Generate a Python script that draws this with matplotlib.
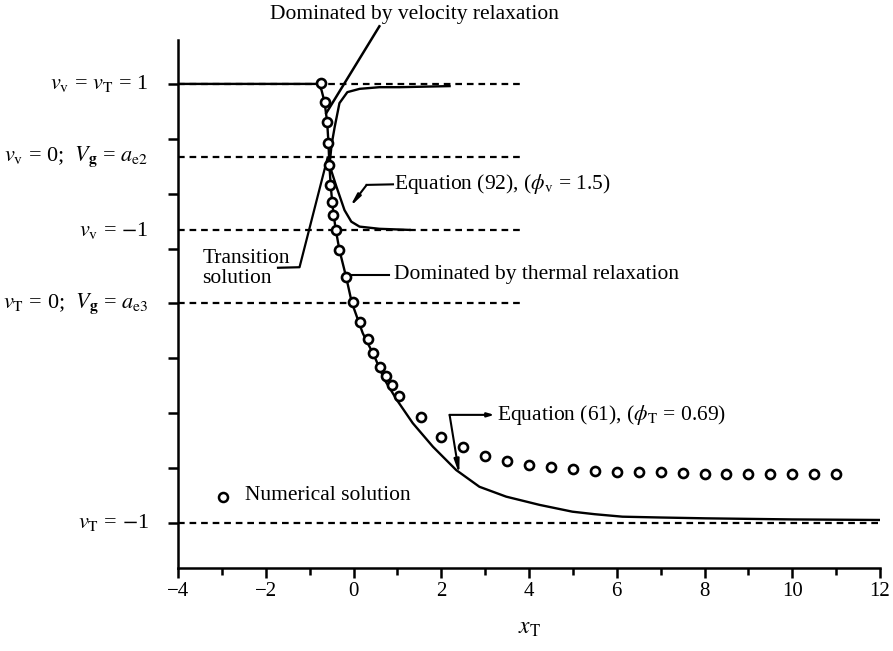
import matplotlib
matplotlib.use("Agg")
import matplotlib.pyplot as plt

plt.rcParams['font.family'] = ['Liberation Serif', 'DejaVu Serif']
plt.rcParams['mathtext.fontset'] = 'stix'

# ---- data (y in plot units: v_T=-1 -> 0, v_T=1 -> 8) ----
thermal_x = [-4.0, -0.82, -0.73, -0.66, -0.60, -0.57, -0.55, -0.52, -0.48, -0.41, -0.32,
             -0.17, -0.04, 0.21, 0.48, 0.70, 0.99, 1.35, 1.81, 2.34, 2.87, 3.48, 4.24,
             4.99, 5.5, 6.13, 7.0, 8.03, 10.0, 12.0]
thermal_y = [8.0, 8.0, 7.89, 7.67, 7.30, 6.92, 6.52, 6.16, 5.79, 5.37, 4.97,
             4.49, 4.02, 3.46, 3.03, 2.62, 2.24, 1.82, 1.39, 0.965, 0.66, 0.48, 0.33,
             0.206, 0.16, 0.115, 0.10, 0.085, 0.065, 0.055]

velocity_x = [2.19, 1.05, 0.59, 0.14, -0.14, -0.32, -0.43, -0.50, -0.535, -0.547,
              -0.39, -0.205, -0.05, 0.137, 0.59, 1.28]
velocity_y = [7.96, 7.94, 7.94, 7.91, 7.85, 7.65, 7.21, 6.89, 6.61, 6.52,
              6.13, 5.70, 5.49, 5.40, 5.36, 5.34]

transition_x = [-1.72, -1.23, -0.59]
transition_y = [4.65, 4.66, 6.66]

vel_relax_x = [-0.62, 0.59]
vel_relax_y = [7.47, 9.05]

num_x = [-0.74, -0.66, -0.60, -0.57, -0.55, -0.53, -0.50, -0.46, -0.39, -0.32, -0.17,
         -0.02, 0.14, 0.33, 0.44, 0.61, 0.75, 0.88, 1.03,
         1.54, 2.0, 2.5, 3.0, 3.5, 4.0, 4.5, 5.0, 5.5, 6.0, 6.5, 7.0, 7.5, 8.0,
         8.5, 9.0, 9.5, 10.0, 10.5, 11.0]
num_y = [8.02, 7.67, 7.31, 6.92, 6.52, 6.16, 5.85, 5.61, 5.34, 4.97, 4.49,
         4.02, 3.66, 3.35, 3.09, 2.84, 2.68, 2.51, 2.31,
         1.925, 1.57, 1.39, 1.22, 1.135, 1.056, 1.015, 0.978, 0.953, 0.934, 0.92, 0.92,
         0.905, 0.89, 0.89, 0.89, 0.89, 0.89, 0.89, 0.89]

ref_levels = [8.0, 6.67, 5.33, 4.0]
ref_labels = [r'$v_{\rm v}$ = $v_{\rm T}$ = 1',
              r'$v_{\rm v}$ = 0;  $V_{\mathbf{g}}$ = $a_{\rm e2}$',
              r'$v_{\rm v}$ = $-$1',
              r'$v_{\rm T}$ = 0;  $V_{\mathbf{g}}$ = $a_{\rm e3}$']
bottom_level = 0.0
bottom_label = r'$v_{\rm T}$ = $-$1'

xticks_major = [-4, -2, 0, 2, 4, 6, 8, 10, 12]
xticks_minor = [-3, -1, 1, 3, 5, 7, 9, 11]
yticks = [0, 1, 2, 3, 4, 5, 6, 7, 8]

# ---- figure ----
W, H = 893, 651
fig = plt.figure(figsize=(W / 100, H / 100), dpi=100)
ax = fig.add_axes([178 / W, 1 - 568 / H, 702 / W, 528 / H])
ax.set_xlim(-4, 12)
ax.set_ylim(-0.82, 8.80)

for s in ['top', 'right']:
    ax.spines[s].set_visible(False)
for s in ['left', 'bottom']:
    ax.spines[s].set_linewidth(1.8)

ax.set_xticks(xticks_major)
ax.set_xticklabels([str(t).replace('-', '\u2212') for t in xticks_major], fontsize=15)
ax.set_xticks(xticks_minor, minor=True)
ax.set_yticks(yticks)
ax.set_yticklabels([])
ax.tick_params(axis='x', which='major', direction='out', length=7, width=1.8, pad=3)
ax.tick_params(axis='x', which='minor', direction='out', length=5, width=1.8)
ax.tick_params(axis='y', which='major', direction='out', length=7, width=1.8)

dash = (0, (3, 2.2))
for lvl in ref_levels:
    ax.plot([-4, 3.83], [lvl, lvl], color='k', lw=1.6, ls=dash)
ax.plot([-4, 12], [bottom_level, bottom_level], color='k', lw=1.6, ls=dash)

ax.plot(thermal_x, thermal_y, color='k', lw=1.7)
ax.plot(velocity_x, velocity_y, color='k', lw=1.7)
ax.plot(transition_x, transition_y, color='k', lw=1.6)
ax.plot(vel_relax_x, vel_relax_y, color='k', lw=1.8, clip_on=False)
ax.plot(num_x, num_y, ls='none', marker='o', ms=6.5, mfc='white', mec='k', mew=1.9, zorder=5)

# left labels
for lvl, lab in zip(ref_levels + [bottom_level], ref_labels + [bottom_label]):
    ax.text(-4.67, lvl, lab, ha='right', va='center', fontsize=16, clip_on=False)

# annotations
fs = 15.5
ax.text(-1.91, 9.27, 'Dominated by velocity relaxation', ha='left', va='center',
        fontsize=fs, clip_on=False)

ax.plot([0.90, 0.30], [6.17, 6.16], color='k', lw=1.5)
ax.annotate('', xy=(-0.14, 5.70), xytext=(0.30, 6.16),
            arrowprops=dict(arrowstyle='-|>,head_length=0.7,head_width=0.12',
                            color='k', lw=1.5, shrinkA=0, shrinkB=3))
ax.text(0.93, 6.17, r'Equation (92), ($\phi_{\rm v}$ = 1.5)', ha='left', va='center', fontsize=fs)

ax.plot([-0.05, 0.82], [4.52, 4.52], color='k', lw=1.5)
ax.text(0.93, 4.52, 'Dominated by thermal relaxation', ha='left', va='center', fontsize=fs)

ax.text(-3.44, 4.64, 'Transition\nsolution', ha='left', va='center', fontsize=fs,
        linespacing=1.05)

ax.annotate('', xy=(3.21, 1.97), xytext=(2.19, 1.97),
            arrowprops=dict(arrowstyle='-|>,head_length=0.4,head_width=0.12',
                            color='k', lw=1.5, shrinkA=0, shrinkB=0))
ax.annotate('', xy=(2.41, 0.89), xytext=(2.19, 1.97),
            arrowprops=dict(arrowstyle='-|>,head_length=0.8,head_width=0.15',
                            color='k', lw=1.5, shrinkA=0, shrinkB=0))
ax.text(3.28, 1.97, r'Equation (61), ($\phi_{\rm T}$ = 0.69)', ha='left', va='center', fontsize=fs)

ax.plot([-2.98], [0.47], ls='none', marker='o', ms=6.5, mfc='white', mec='k', mew=1.8)
ax.text(-2.48, 0.50, 'Numerical solution', ha='left', va='center', fontsize=fs)

ax.set_xlabel(r'$x_{\rm T}$', fontsize=17, labelpad=12)

fig.savefig('out.png', dpi=100)
